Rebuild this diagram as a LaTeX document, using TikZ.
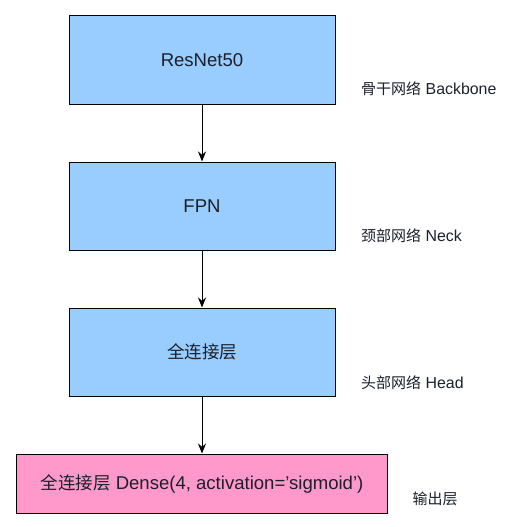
\documentclass[tikz,border=0pt]{standalone}
\usepackage{fontspec}
\setmainfont{Liberation Sans}[Scale=1.06]
\newfontfamily\cjk{Noto Sans CJK SC}
\usetikzlibrary{positioning,arrows.meta}
\definecolor{layer}{RGB}{153,204,255}
\definecolor{outlayer}{RGB}{255,153,204}
\definecolor{ink}{RGB}{28,32,42}
\tikzset{
  block/.style={draw=black,line width=1pt,fill=layer,inner sep=0pt,
    minimum width=266pt,minimum height=88pt,
    font=\fontsize{17.5}{20}\selectfont,text=ink},
  outblock/.style={block,fill=outlayer,minimum width=371pt,minimum height=59pt},
  arr/.style={-{Stealth[length=10pt,width=8pt]},line width=1pt},
  lbl/.style={font=\fontsize{15}{17}\selectfont,anchor=west,text=ink},
}

\begin{document}
\begin{tikzpicture}[x=1pt,y=1pt,node distance=57pt]
  \useasboundingbox (0,0) rectangle (515,-527);
  \node[block] (res) at (202,-60) {ResNet50};
  \node[block,below=of res] (fpn) {FPN};
  \node[block,below=of fpn] (fc) {\cjk 全连接层};
  \node[outblock,below=of fc] (out) {{\cjk 全连接层} Dense(4, activation=’sigmoid’)};
  \draw[arr] (res) -- (fpn);
  \draw[arr] (fpn) -- (fc);
  \draw[arr] (fc) -- (out);
  % stage labels
  \node[lbl] (lres) at ([xshift=22pt,yshift=16pt]res.south east) {{\cjk 骨干网络} Backbone};
  \node[lbl] (lfpn) at ([xshift=22pt,yshift=15pt]fpn.south east) {{\cjk 颈部网络} Neck};
  \node[lbl] (lfc) at ([xshift=22pt,yshift=14pt]fc.south east) {{\cjk 头部网络} Head};
  \node[lbl] (lout) at ([xshift=21pt,yshift=15pt]out.south east) {\cjk 输出层};
\end{tikzpicture}
\end{document}
